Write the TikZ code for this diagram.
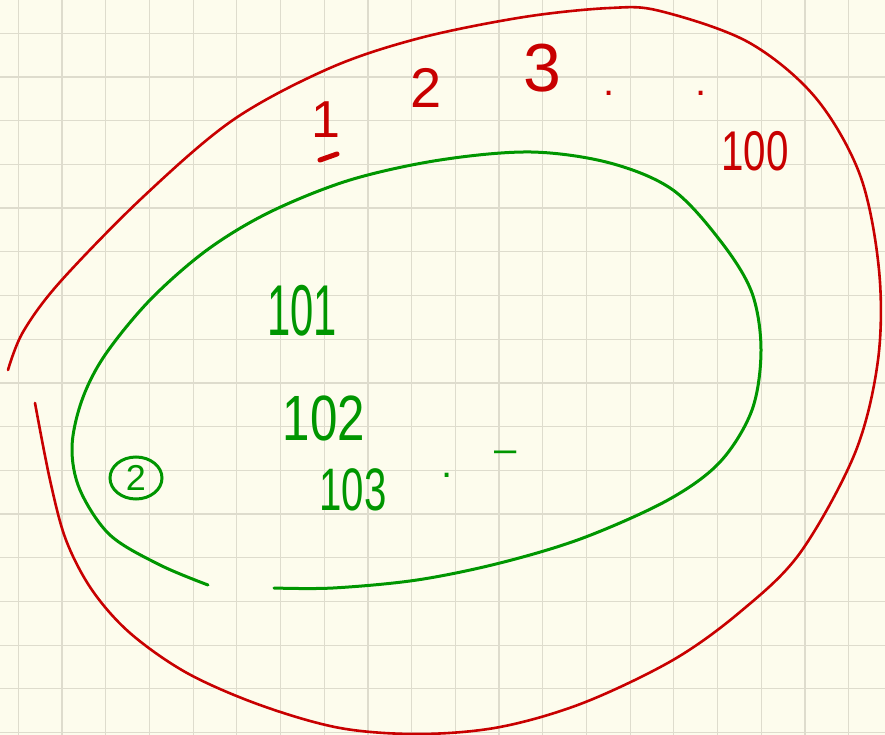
\documentclass[tikz,border=0pt]{standalone}
\usepackage{fontspec}
\setmainfont{Liberation Sans}
\usetikzlibrary{positioning,shapes.geometric}
\definecolor{sheetBg}{RGB}{253,252,237}
\definecolor{sheetGrid}{RGB}{222,220,205}
\definecolor{setRed}{RGB}{200,0,0}
\definecolor{setGreen}{RGB}{0,150,0}

\begin{document}
\begin{tikzpicture}[x=1pt,y=-1pt,
    outerset/.style={setRed, line width=2.6pt, line cap=round},
    innerset/.style={setGreen, line width=3pt, line cap=round},
    redlabel/.style={text=setRed, inner sep=0pt},
    greenlabel/.style={text=setGreen, inner sep=0pt}]
    % paper
    \fill[sheetBg] (0,0) rectangle (885,735);
    \useasboundingbox (0,0) rectangle (885,735);
    \foreach \gx in {0,...,19}
        \draw[sheetGrid, line width=1.2pt] ({18.3+43.7*\gx},0) -- ({18.3+43.7*\gx},735);
    \foreach \gy in {0,...,16}
        \draw[sheetGrid, line width=1.2pt] (0,{33.3+43.7*\gy}) -- (885,{33.3+43.7*\gy});

    % outer set (red), open at the left
    \draw[outerset] plot[smooth, tension=0.55] coordinates {
        (8,370) (23,332) (60,282) (143,197) (233,120) (330,68) (420,38)
        (524,17) (610,8) (660,11) (748,42) (815,97) (860,175) (879,270)
        (878,360) (855,453) (800,553) (740,612) (673,660) (583,703)
        (500,727) (420,734) (340,728) (260,705) (187,673) (130,633)
        (92,590) (66,540) (50,480) (35,403)};

    % inner set (green), open at the bottom
    \draw[innerset] plot[smooth, tension=0.55] coordinates {
        (208,585) (160,565) (110,535) (80,490) (72,447) (82,400)
        (105,355) (150,300) (207,250) (270,212) (350,180) (440,160)
        (531,152) (610,163) (673,190) (722,243) (752,293) (761,350)
        (752,410) (720,462) (668,500) (583,538) (500,563) (417,580)
        (333,588) (274,588)};

    % red labels
    \node[redlabel, font=\fontsize{52}{52}\selectfont] (one) at (326,120) {1};
    \draw[outerset, line width=5pt] (320,160) -- (337,154);
    \node[redlabel, font=\fontsize{56}{56}\selectfont] (two) at (426,88) {2};
    \node[redlabel, font=\fontsize{68}{68}\selectfont] (three) at (542,68) {3};
    \node[redlabel, font=\fontsize{40}{40}\selectfont] (dotA) at (609,93) {.};
    \node[redlabel, font=\fontsize{40}{40}\selectfont] (dotB) at (701,93) {.};
    \node[redlabel, font=\fontsize{56}{56}\selectfont] (hundred) at (755,151) {\scalebox{0.72}[1]{100}};

    % green labels
    \node[greenlabel, font=\fontsize{72}{72}\selectfont] (n101) at (302,311) {\scalebox{0.58}[1]{101}};
    \node[greenlabel, font=\fontsize{64}{64}\selectfont] (n102) at (324,418) {\scalebox{0.77}[1]{102}};
    \node[greenlabel, font=\fontsize{60}{60}\selectfont] (n103) at (353,490) {\scalebox{0.67}[1]{103}};
    \node[greenlabel, font=\fontsize{40}{40}\selectfont] (dotC) at (447,475) {.};
    \node[greenlabel, font=\fontsize{40}{40}\selectfont] (dashC) at (506,457) {–};
    \node[greenlabel, draw=setGreen, line width=3pt, ellipse, minimum width=52pt,
        minimum height=42pt, inner sep=0pt, font=\fontsize{36}{36}\selectfont] (mark) at (136,478) {2};
\end{tikzpicture}
\end{document}
